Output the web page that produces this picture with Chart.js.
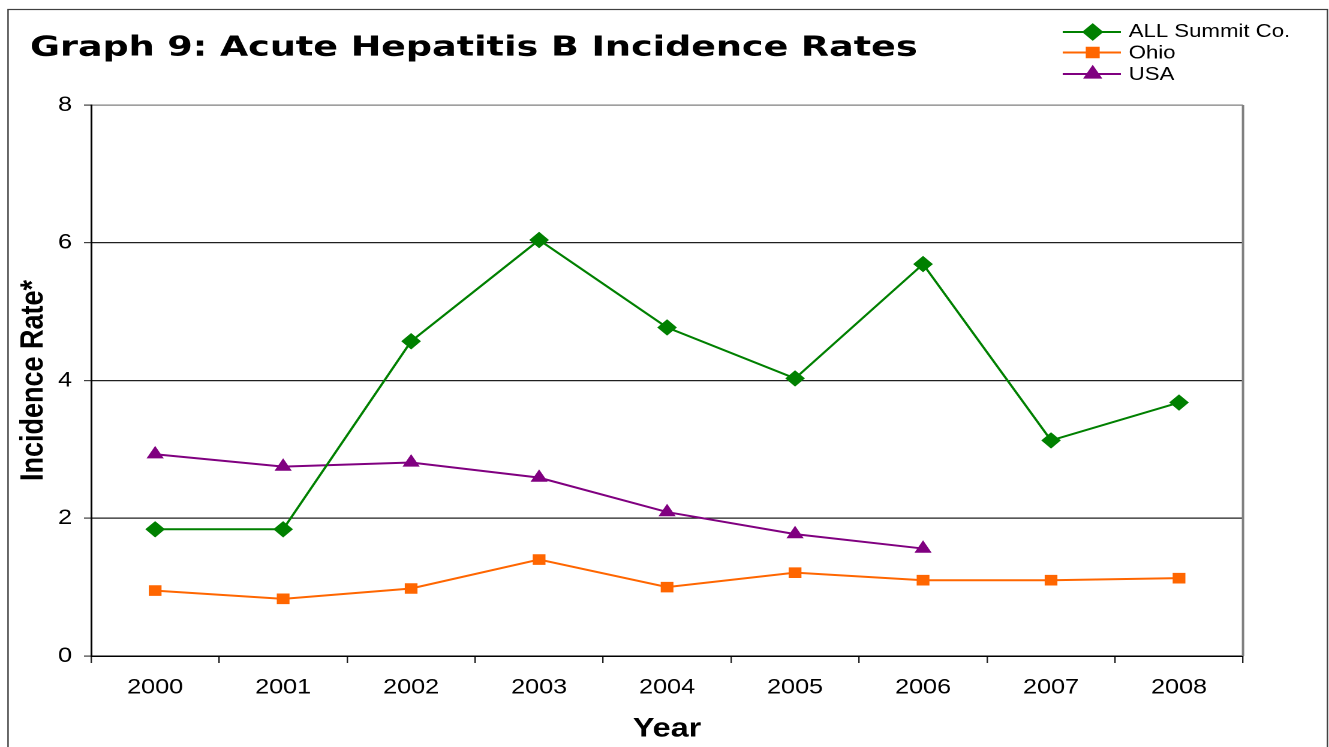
<!DOCTYPE html>
<html>
<head>
<meta charset="utf-8">
<script src="https://cdn.jsdelivr.net/npm/chart.js@4.4.1/dist/chart.umd.min.js"></script>
<style>
  html, body { margin: 0; padding: 0; background: #ffffff; overflow: hidden; }
  #wrap { position: absolute; left: 0; top: 0; width: 1108px; height: 747px; transform-origin: 0 0; transform: scaleX(1.19946); }
</style>
</head>
<body>
<div id="wrap"><canvas id="c" width="1108" height="747"></canvas></div>
<script>
// ---- data ----
const years = ['2000', '2001', '2002', '2003', '2004', '2005', '2006', '2007', '2008'];
const summitValues = [1.84, 1.84, 4.57, 6.04, 4.77, 4.03, 5.69, 3.13, 3.68];
const ohioValues = [0.95, 0.83, 0.98, 1.40, 1.00, 1.21, 1.10, 1.10, 1.13];
const usaValues = [2.93, 2.75, 2.81, 2.59, 2.09, 1.77, 1.56, null, null];
const yTicks = [0, 2, 4, 6, 8];
const seriesNames = ['ALL Summit Co.', 'Ohio', 'USA'];
const chartTitle = 'Graph 9: Acute Hepatitis B Incidence Rates';
const xTitle = 'Year';
const yTitle = 'Incidence Rate*';

const GREEN = '#008000', ORANGE = '#FF6600', PURPLE = '#800080';

const decoPlugin = {
  id: 'deco',
  beforeDraw(chart) {
    const ctx = chart.ctx;
    ctx.save();
    ctx.fillStyle = '#ffffff';
    ctx.fillRect(0, 0, chart.width, chart.height);
    ctx.strokeStyle = '#404040';
    ctx.lineWidth = 1.2;
    ctx.strokeRect(6.7, 9.5, 1100, 800);
    ctx.restore();
  },
  beforeDatasetsDraw(chart) {
    const ctx = chart.ctx;
    const a = chart.chartArea;
    ctx.save();
    ctx.strokeStyle = '#808080';
    ctx.lineWidth = 2;
    ctx.beginPath();
    ctx.moveTo(a.right, a.top);
    ctx.lineTo(a.right, a.bottom);
    ctx.stroke();
    ctx.restore();
  },
  afterDraw(chart) {
    const ctx = chart.ctx;
    ctx.save();
    // title (stretched horizontally to the reference width)
    ctx.fillStyle = '#000000';
    ctx.font = 'bold 28px "DejaVu Sans"';
    ctx.textBaseline = 'alphabetic';
    ctx.textAlign = 'left';
    const tw = ctx.measureText(chartTitle).width;
    const sx = 740 / tw;
    ctx.save();
    ctx.translate(25, 55.5);
    ctx.scale(sx, 1);
    ctx.fillText(chartTitle, 0, 0);
    ctx.restore();
    // legend
    const items = [
      { name: seriesNames[0], color: GREEN, style: 'rectRot', r: 7.5, y: 32, base: 37 },
      { name: seriesNames[1], color: ORANGE, style: 'rect', r: 6.8, y: 52.5, base: 58.5 },
      { name: seriesNames[2], color: PURPLE, style: 'triangle', r: 7.3, y: 74, base: 80 }
    ];
    ctx.font = '18.5px "Liberation Sans", Arial, sans-serif';
    items.forEach(it => {
      ctx.strokeStyle = it.color;
      ctx.lineWidth = 2;
      ctx.beginPath();
      ctx.moveTo(886, it.y);
      ctx.lineTo(934.5, it.y);
      ctx.stroke();
      ctx.fillStyle = it.color;
      Chart.helpers.drawPoint(ctx, { pointStyle: it.style, radius: it.r, rotation: 0, borderWidth: 1 }, 911, it.y);
      ctx.fillStyle = '#000000';
      ctx.fillText(it.name, 941, it.base);
    });
    ctx.restore();
  }
};

const tickFont = { family: '"Liberation Sans", Arial, sans-serif', size: 21 };

new Chart(document.getElementById('c'), {
  type: 'line',
  data: {
    labels: years,
    datasets: [
      { label: seriesNames[0], data: summitValues, borderColor: GREEN, backgroundColor: GREEN, borderWidth: 2,
        pointStyle: 'rectRot', pointRadius: 7.5, pointBorderWidth: 1, pointBorderColor: GREEN, pointBackgroundColor: GREEN, tension: 0 },
      { label: seriesNames[1], data: ohioValues, borderColor: ORANGE, backgroundColor: ORANGE, borderWidth: 2,
        pointStyle: 'rect', pointRadius: 6.8, pointBorderWidth: 1, pointBorderColor: ORANGE, pointBackgroundColor: ORANGE, tension: 0 },
      { label: seriesNames[2], data: usaValues, borderColor: PURPLE, backgroundColor: PURPLE, borderWidth: 2,
        pointStyle: 'triangle', pointRadius: 7.3, pointBorderWidth: 1, pointBorderColor: PURPLE, pointBackgroundColor: PURPLE, tension: 0, spanGaps: false }
    ]
  },
  options: {
    responsive: false,
    animation: false,
    devicePixelRatio: 2,
    layout: { padding: { left: 0, top: 105, right: 71.7, bottom: 0 } },
    plugins: {
      legend: { display: false },
      title: { display: false },
      tooltip: { enabled: false }
    },
    scales: {
      x: {
        type: 'category',
        offset: true,
        grid: { display: true, drawOnChartArea: false, drawTicks: true, tickLength: 7, offset: true, color: '#202020', lineWidth: 1.2 },
        border: { display: true, color: '#000000', width: 1.5 },
        ticks: { font: tickFont, color: '#000000', padding: 12, maxRotation: 0, autoSkip: false },
        title: { display: true, text: xTitle, color: '#000000', font: { family: '"Liberation Sans", Arial, sans-serif', size: 27, weight: 'bold' }, padding: { top: 0, bottom: 2 } },
        afterFit(scale) { scale.height = 91; }
      },
      y: {
        min: 0,
        max: 8,
        afterBuildTicks(scale) { scale.ticks = yTicks.map(v => ({ value: v })); },
        grid: {
          drawTicks: true, tickLength: 6,
          color: (c) => (c.tick && c.tick.value === 8) ? '#808080' : '#202020',
          tickColor: '#404040',
          lineWidth: 1.2
        },
        border: { display: true, color: '#000000', width: 1.5 },
        ticks: { font: tickFont, color: '#000000', padding: 10 },
        title: { display: true, text: yTitle, color: '#000000', font: { family: '"Liberation Sans", Arial, sans-serif', size: 27, weight: 'bold' }, padding: { top: 12, bottom: 0 } },
        afterFit(scale) { scale.width = 76; }
      }
    }
  },
  plugins: [decoPlugin]
});
</script>
</body>
</html>
